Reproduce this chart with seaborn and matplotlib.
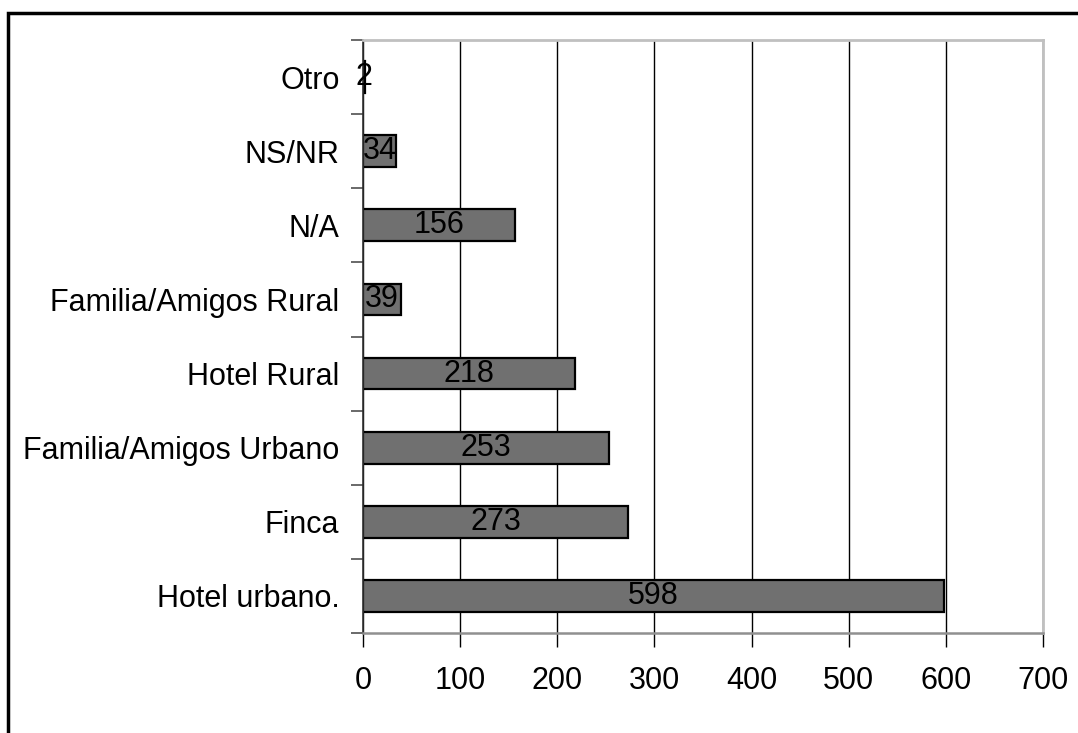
import matplotlib
matplotlib.use("Agg")
import matplotlib.pyplot as plt
from matplotlib.patches import Rectangle
from matplotlib.ticker import FixedLocator, MultipleLocator
import seaborn as sns
import pandas as pd

# Lodging type counts (top to bottom)
categories = ["Otro", "NS/NR", "N/A", "Familia/Amigos Rural", "Hotel Rural",
              "Familia/Amigos Urbano", "Finca", "Hotel urbano."]
counts = [2, 34, 156, 39, 218, 253, 273, 598]
x_ticks = [0, 100, 200, 300, 400, 500, 600, 700]

sns.set_theme(style="white")
plt.rcParams["font.family"] = ["Liberation Sans", "DejaVu Sans"]

FS = 22

df = pd.DataFrame({"categoria": categories, "total": counts})

fig = plt.figure(figsize=(10.78, 7.33), dpi=100)
ax = fig.add_axes([363 / 1078, 1 - 633 / 733, (1043 - 363) / 1078, (633 - 40) / 733])

sns.barplot(data=df, y="categoria", x="total", order=categories, orient="h",
            color="#707070", saturation=1, edgecolor="black", linewidth=1.6,
            width=0.43, ax=ax)

for container in ax.containers:
    ax.bar_label(container, labels=[str(v) for v in counts], label_type="center",
                 fontsize=FS, color="black")

ax.set_xlim(0, 700)
ax.set_ylim(len(categories) - 0.5, -0.5)
ax.xaxis.set_major_locator(FixedLocator(x_ticks))
ax.set_xticklabels([str(t) for t in x_ticks])
ax.set_xlabel("")
ax.set_ylabel("")

# Vertical grid lines
ax.grid(axis="x", color="black", linewidth=1.0)
ax.grid(axis="y", visible=False)
ax.set_axisbelow(True)

# Category separators as outward tick marks on the y axis
ax.yaxis.set_minor_locator(MultipleLocator(1, offset=0.5))
ax.tick_params(axis="y", which="major", length=0, pad=17, labelsize=FS, labelcolor="black")
ax.tick_params(axis="y", which="minor", length=9, width=1.2, color="#505050", direction="out", left=True)
ax.tick_params(axis="x", which="major", length=10, width=1.0, color="black", direction="out",
               bottom=True, pad=14, labelsize=FS, labelcolor="black")

for side in ["top", "right"]:
    ax.spines[side].set_color("#c0c0c0")
    ax.spines[side].set_linewidth(2.0)
ax.spines["bottom"].set_color("#909090")
ax.spines["bottom"].set_linewidth(1.8)
ax.spines["left"].set_color("#303030")
ax.spines["left"].set_linewidth(1.2)
for s in ax.spines.values():
    s.set_visible(True)

# Chart frame
fig.patches.append(Rectangle((8 / 1078, -0.1), 1.2, 1 - 13 / 733 + 0.1,
                             transform=fig.transFigure, fill=False,
                             edgecolor="black", linewidth=2.5))

fig.savefig("out.png", dpi=100, facecolor="white")
